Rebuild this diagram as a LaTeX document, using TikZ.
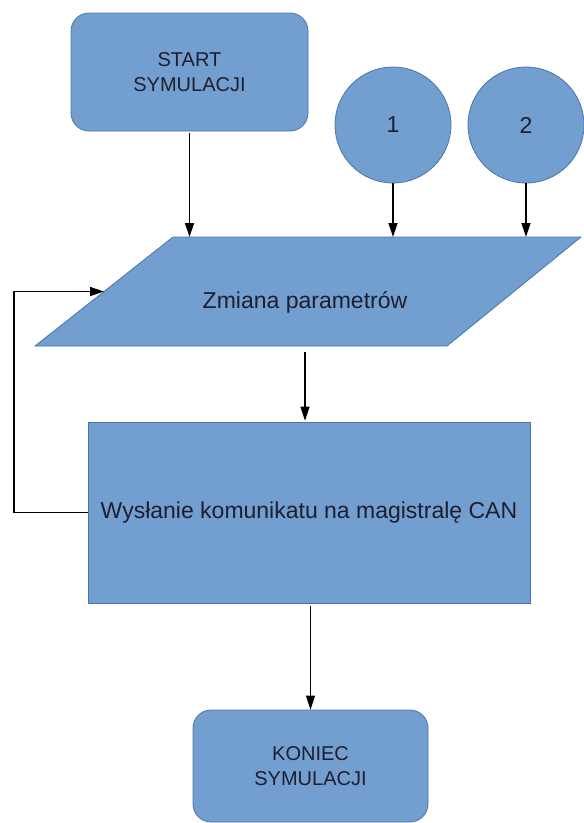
\documentclass[tikz,border=0pt]{standalone}
\usepackage{fontspec}
\setmainfont{Liberation Sans}
\usetikzlibrary{arrows.meta,calc}
\definecolor{boxfill}{HTML}{729FCF}
\definecolor{boxline}{HTML}{4A75A8}
\definecolor{txt}{HTML}{1E1E30}
\tikzset{
  blk/.style={fill=boxfill,draw=boxline,line width=0.8pt,text=txt,align=center,inner sep=0pt},
  rbox/.style={blk,rounded corners=18pt},
  circ/.style={blk,circle,minimum size=116pt},
  conn/.style={draw=black,line width=1.3pt,-{Triangle[length=14pt,width=9pt]}},
  bigtxt/.style={font=\fontsize{23}{28}\selectfont},
  smalltxt/.style={font=\fontsize{20}{25}\selectfont}
}
\begin{document}
\begin{tikzpicture}[x=1pt,y=-1pt]
\useasboundingbox (0,0) rectangle (584,823);
% start
\node[rbox,smalltxt,minimum width=237pt,minimum height=118pt] (start) at (189.5,72) {START\\SYMULACJI};
% circles
\node[circ,bigtxt] (c1) at (393,125) {1};
\node[circ,bigtxt] (c2) at (526,125) {2};
% parallelogram
\coordinate (ptl) at (173,237);
\coordinate (ptr) at (581,237);
\coordinate (pbr) at (447,346);
\coordinate (pbl) at (35,346);
\coordinate (pin) at ($(pbl)!0.5!(ptl)$);
\path[fill=boxfill,draw=boxline,line width=0.8pt] (ptl) -- (ptr) -- (pbr) -- (pbl) -- cycle;
\node[bigtxt,text=txt,anchor=base] (zm) at (305,308) {Zmiana parametrów};
% rectangle
\node[blk,bigtxt,minimum width=442pt,minimum height=181pt] (wys) at (309,512.5) {Wysłanie komunikatu na magistralę CAN};
% end
\node[rbox,smalltxt,minimum width=235pt,minimum height=112pt] (kon) at (310.5,766) {KONIEC\\SYMULACJI};
% connectors
\coordinate (fb) at (14,0);
\draw[conn,shorten <=2pt] (start.south) -- (start.south |- ptl);
\draw[conn] (c1.south) -- (c1.south |- ptl);
\draw[conn] (c2.south) -- (c2.south |- ptl);
\draw[conn,shorten <=6pt,shorten >=1pt] (zm |- pbl) -- (zm |- wys.north);
\draw[conn,shorten <=3pt] (wys.south -| kon.north) -- (kon.north);
\draw[conn] (wys.west) -- (wys.west -| fb) |- (pin);
\end{tikzpicture}
\end{document}
